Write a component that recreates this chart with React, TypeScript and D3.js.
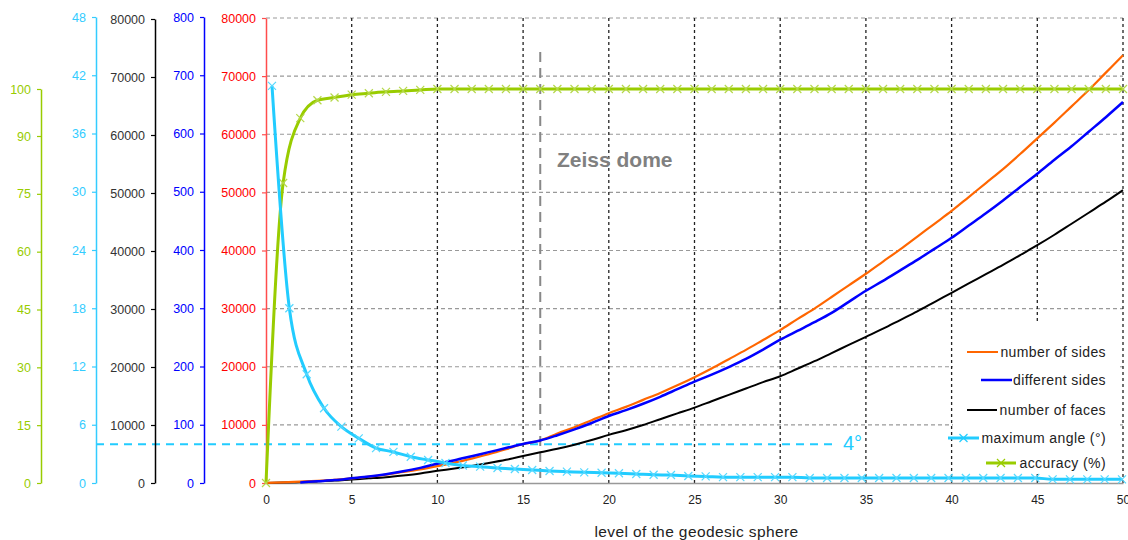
import React, { useEffect, useRef } from "react";
import * as d3 from "d3";

const FONT = "'Liberation Sans', Arial, sans-serif";

// level of the geodesic sphere
const levels = d3.range(0, 51);
const numberOfSides = [
  30, 120, 250, 380, 560, 800, 1100, 1450, 1900, 2350,
  2900, 3500, 4200, 4950, 5800, 6700, 7300, 8500, 9600, 10800,
  12000, 13100, 14300, 15500, 16800, 18200, 19700, 21300, 22900, 24600,
  26300, 28200, 30000, 32000, 34000, 36000, 38100, 40200, 42400, 44600,
  46800, 49200, 51600, 54000, 56600, 59300, 62000, 64800, 67600, 70600,
  73600,
];
const numberOfFaces = [
  20, 80, 170, 280, 420, 620, 800, 1000, 1300, 1650,
  2100, 2500, 2950, 3450, 4000, 4650, 5300, 5900, 6600, 7400,
  8300, 9100, 10000, 11000, 12000, 13000, 14100, 15200, 16300, 17400,
  18400, 19700, 21000, 22400, 23800, 25200, 26600, 28100, 29600, 31200,
  32800, 34400, 36000, 37600, 39300, 41000, 42800, 44700, 46600, 48500,
  50500,
];
const diffLevels = d3.range(2, 51);
const differentSides = [
  1, 3, 5, 8, 11, 15, 20, 26,
  33, 39, 46, 53, 60, 67, 73, 82, 92, 103,
  115, 125, 136, 148, 161, 174, 186, 199, 213, 229,
  246, 261, 276, 292, 311, 330, 347, 365, 383, 402,
  421, 442, 463, 485, 508, 531, 555, 578, 603, 628,
  654,
];
const angleLevels = d3.range(1, 51);
const maximumAngle = [
  40.9, 18.0, 11.2, 7.7, 5.8, 4.6, 3.6, 3.2, 2.7, 2.37,
  2.06, 1.8, 1.68, 1.54, 1.44, 1.34, 1.24, 1.17, 1.1, 1.06,
  1.0, 0.93, 0.85, 0.82, 0.72, 0.68, 0.6, 0.6, 0.6, 0.6,
  0.6, 0.52, 0.52, 0.52, 0.52, 0.52, 0.52, 0.52, 0.52, 0.52,
  0.52, 0.52, 0.52, 0.52, 0.52, 0.38, 0.38, 0.38, 0.38, 0.38,
];
const accuracy = [
  0, 77.8, 93.8, 97.6, 98.2, 98.8, 99.1, 99.4, 99.6, 99.8,
  100, 100, 100, 100, 100, 100, 100, 100, 100, 100,
  100, 100, 100, 100, 100, 100, 100, 100, 100, 100,
  100, 100, 100, 100, 100, 100, 100, 100, 100, 100,
  100, 100, 100, 100, 100, 100, 100, 100, 100, 100,
  100,
];

const xTicks = [0, 5, 10, 15, 20, 25, 30, 35, 40, 45, 50];
const sidesTicks = [0, 10000, 20000, 30000, 40000, 50000, 60000, 70000, 80000];
const diffTicks = [0, 100, 200, 300, 400, 500, 600, 700, 800];
const angleTicks = [0, 6, 12, 18, 24, 30, 36, 42, 48];
const accTicks = [0, 15, 30, 45, 60, 75, 90, 100];
const zeissLevel = 16;
const angleLimit = 4;

const App = () => {
  const axesRef = useRef<SVGGElement>(null);

  const x = d3.scaleLinear().domain([0, 50]).range([266, 1123]);
  const xAngle = d3.scaleLinear().domain([1, 50]).range([272, 1122]);
  const ySides = d3.scaleLinear().domain([0, 80000]).range([483, 18]);
  const yFaces = d3.scaleLinear().domain([0, 80000]).range([483, 19]);
  const yDiff = d3.scaleLinear().domain([0, 800]).range([483, 17]);
  const yAngle = d3.scaleLinear().domain([0, 48]).range([483, 17]);
  const yAcc = d3.scaleLinear().domain([0, 90, 100]).range([483, 136, 89]);

  useEffect(() => {
    const g = d3.select(axesRef.current);
    g.selectAll("*").remove();

    const axes = [
      { scale: ySides, ticks: sidesTicks, pos: 266, line: "#ff4d4d", text: "#ff0000" },
      { scale: yDiff, ticks: diffTicks, pos: 204, line: "#0000ff", text: "#0000ff" },
      { scale: yFaces, ticks: sidesTicks, pos: 155, line: "#000000", text: "#333333" },
      { scale: yAngle, ticks: angleTicks, pos: 96, line: "#33ccff", text: "#33ccff" },
      { scale: yAcc, ticks: accTicks, pos: 41, line: "#99cc00", text: "#99cc00" },
    ];

    axes.forEach(a => {
      const ax = g
        .append("g")
        .attr("transform", `translate(${a.pos},0)`)
        .call(
          d3.axisLeft(a.scale as any)
            .tickValues(a.ticks)
            .tickSize(4)
            .tickSizeOuter(0)
            .tickPadding(6)
            .tickFormat(d3.format("d") as any)
        );
      ax.attr("font-family", FONT).attr("font-size", 12.5);
      ax.select(".domain").attr("stroke", a.line).attr("stroke-width", 1.5);
      ax.selectAll(".tick line").attr("stroke", a.line).attr("stroke-width", 1.2);
      ax.selectAll("text").attr("fill", a.text);
    });

    const xa = g
      .append("g")
      .attr("transform", "translate(0,483)")
      .call(d3.axisBottom(x).tickValues(xTicks).tickSize(0).tickPadding(12));
    xa.attr("font-family", FONT).attr("font-size", 12);
    xa.select(".domain").attr("stroke", "#999").attr("stroke-width", 1.5);
    xa.selectAll("text").attr("fill", "#222");
  }, []);

  const smooth = d3.curveMonotoneX;
  const sidesLine = d3.line<number>().x((d, i) => x(levels[i])).y(d => ySides(d)).curve(smooth);
  const facesLine = d3.line<number>().x((d, i) => x(levels[i])).y(d => yFaces(d)).curve(smooth);
  const diffLine = d3.line<number>().x((d, i) => x(diffLevels[i])).y(d => yDiff(d)).curve(smooth);
  const angleLine = d3.line<number>().x((d, i) => xAngle(angleLevels[i])).y(d => yAngle(d)).curve(smooth);
  const accLine = d3.line<number>().x((d, i) => x(levels[i])).y(d => yAcc(d)).curve(smooth);

  const cross = "M-4,-4L4,4M-4,4L4,-4";

  const legend = [
    { label: "number of sides", color: "#ff6600", y: 352, x1: 967, x2: 998, marker: false, w: 2 },
    { label: "different sides", color: "#0000ff", y: 380, x1: 981, x2: 1012, marker: false, w: 2.5 },
    { label: "number of faces", color: "#000000", y: 410, x1: 967, x2: 997, marker: false, w: 2 },
    { label: "maximum angle (°)", color: "#22ccff", y: 438, x1: 948, x2: 979, marker: true, w: 3 },
    { label: "accuracy (%)", color: "#99cc00", y: 463, x1: 986, x2: 1016, marker: true, w: 3 },
  ];

  return (
    <svg
      width={1128}
      height={540}
      style={{ position: "absolute", left: 0, top: 0, background: "#fff" }}
      fontFamily={FONT}
    >
      {/* horizontal grid */}
      {sidesTicks.slice(1).map(t => (
        <line key={"h" + t} x1={x(0)} x2={x(50)} y1={ySides(t)} y2={ySides(t)}
          stroke="#999" strokeWidth={1.2} strokeDasharray="4,3" />
      ))}
      {/* vertical grid */}
      {xTicks.slice(1).map(t => (
        <line key={"v" + t} x1={x(t)} x2={x(t)} y1={ySides(80000)} y2={ySides(0)}
          stroke="#222" strokeWidth={1.3} strokeDasharray="3,3" />
      ))}

      {/* legend background */}
      <rect x={953} y={323} width={167} height={151} fill="#fff" />

      {/* Zeiss dome marker */}
      <line x1={x(zeissLevel)} x2={x(zeissLevel)} y1={52} y2={ySides(0)}
        stroke="#888" strokeWidth={2} strokeDasharray="10,6" />
      <text x={557} y={167} fontSize={21} fontWeight="bold" fill="#808080">Zeiss dome</text>

      {/* 4 degree limit */}
      <line x1={96} x2={833} y1={yAngle(angleLimit)} y2={yAngle(angleLimit)}
        stroke="#22ccff" strokeWidth={2} strokeDasharray="8,6" />
      <text x={843} y={449.5} fontSize={20} fill="#22ccff">4°</text>

      <g ref={axesRef} />

      {/* series */}
      <path d={facesLine(numberOfFaces) || ""} fill="none" stroke="#000" strokeWidth={2} />
      <path d={sidesLine(numberOfSides) || ""} fill="none" stroke="#ff6600" strokeWidth={2.2} />
      <path d={diffLine(differentSides) || ""} fill="none" stroke="#0000ff" strokeWidth={2.5} />

      <path d={accLine(accuracy) || ""} fill="none" stroke="#99cc00" strokeWidth={3} />
      {accuracy.map((d, i) => (
        <path key={"a" + i} d={cross} transform={`translate(${x(levels[i])},${yAcc(d)})`}
          stroke="#b5d84a" strokeWidth={1.2} fill="none" />
      ))}

      <path d={angleLine(maximumAngle) || ""} fill="none" stroke="#22ccff" strokeWidth={3} />
      {maximumAngle.map((d, i) => (
        <path key={"m" + i} d={cross} transform={`translate(${xAngle(angleLevels[i])},${yAngle(d)})`}
          stroke="#55d8ff" strokeWidth={1.2} fill="none" />
      ))}

      {/* legend */}
      {legend.map(l => (
        <g key={l.label}>
          <line x1={l.x1} x2={l.x2} y1={l.y} y2={l.y} stroke={l.color} strokeWidth={l.w} />
          {l.marker && (
            <path d={cross} transform={`translate(${(l.x1 + l.x2) / 2},${l.y})`}
              stroke={l.color} strokeWidth={1.2} fill="none" />
          )}
          <text x={1106} y={l.y} dy="0.35em" textAnchor="end" fontSize={14}
            letterSpacing={0.4} fill="#222">{l.label}</text>
        </g>
      ))}

      <text x={x(25) + 2} y={537} textAnchor="middle" fontSize={15.5} letterSpacing={0.4}
        fill="#222">level of the geodesic sphere</text>
    </svg>
  );
};

export default App;
